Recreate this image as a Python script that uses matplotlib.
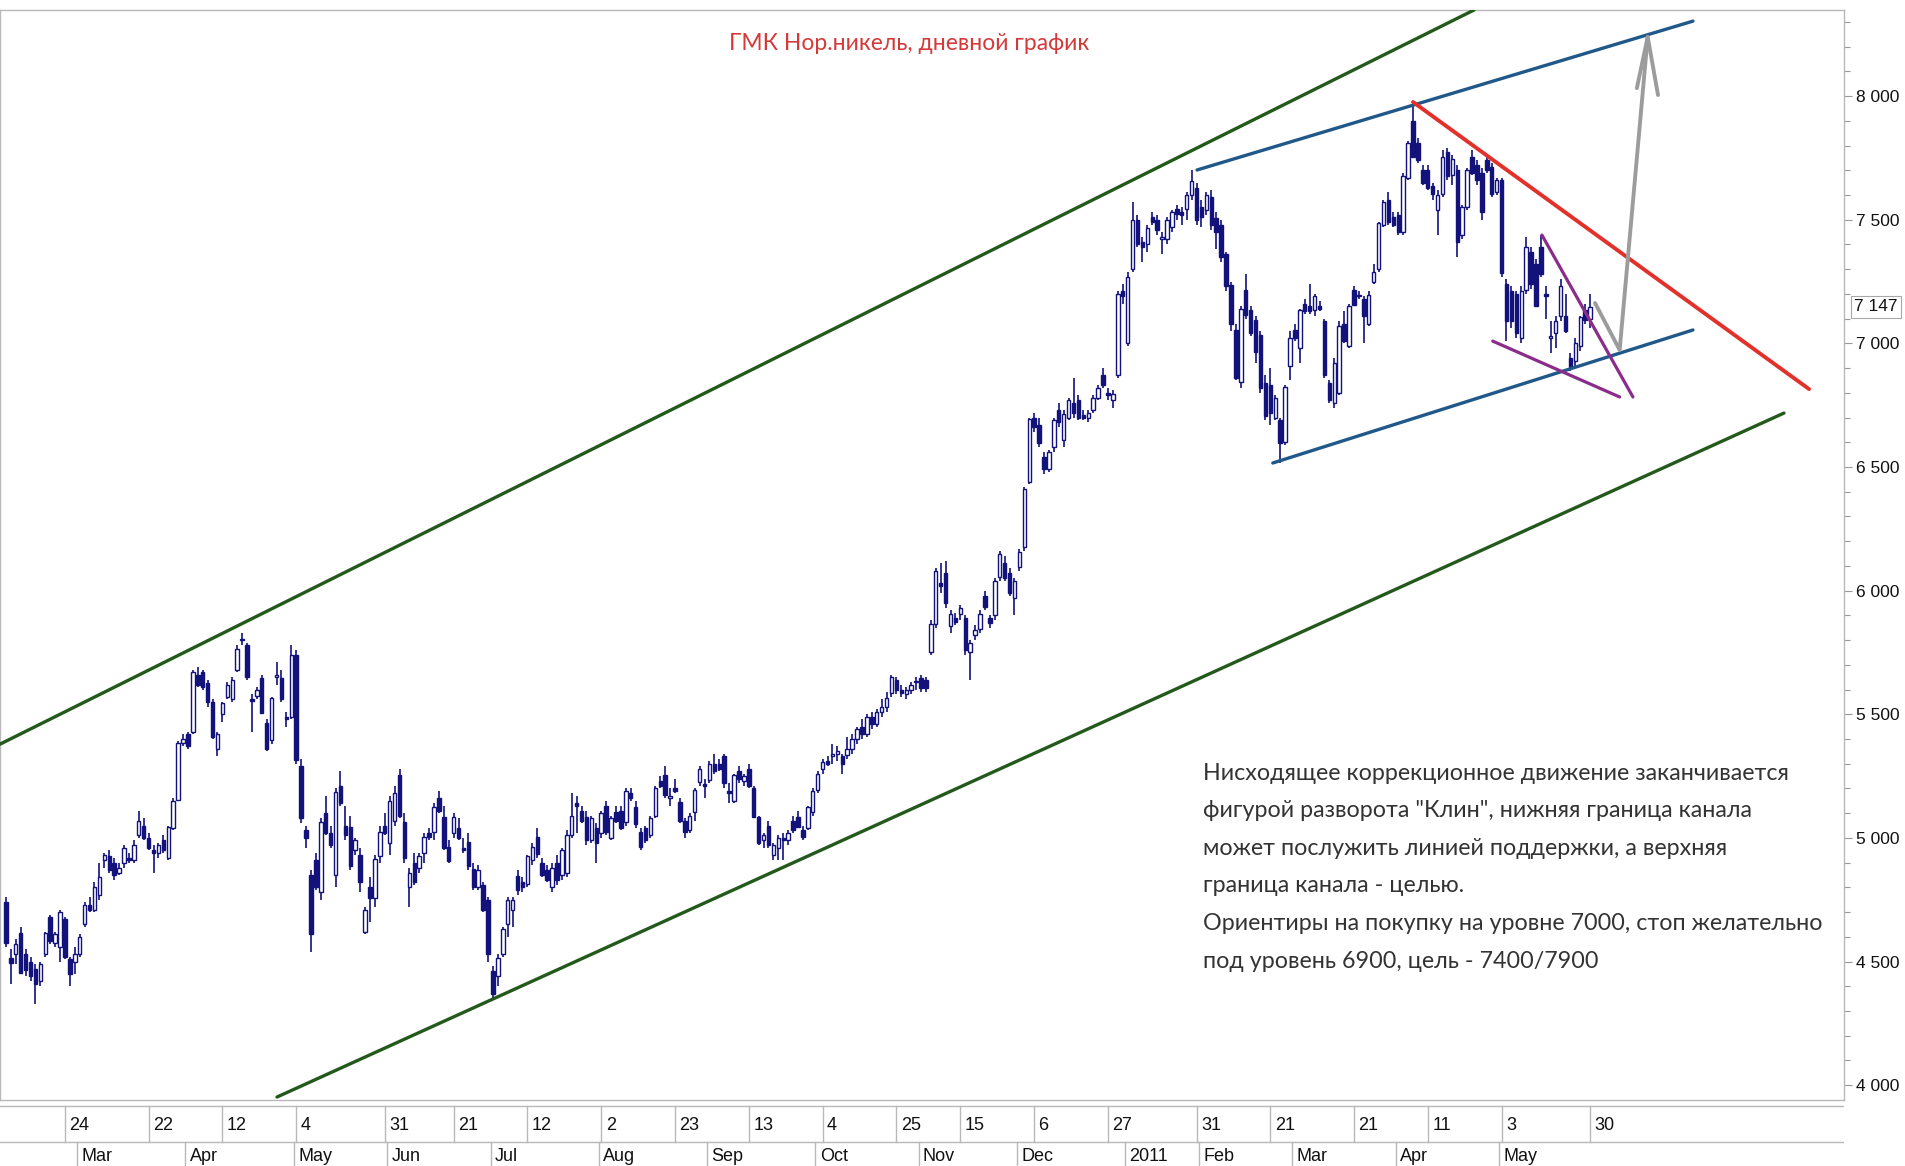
import numpy as np
import pandas as pd
import matplotlib
matplotlib.use("Agg")
import matplotlib.pyplot as plt
from matplotlib import font_manager
from matplotlib.ticker import MultipleLocator, FuncFormatter
import matplotlib.transforms as mtransforms

W, H = 1905, 1166

# daily candles, Feb 2010 - May 2011
opens = [
    4740, 4515, 4530, 4615, 4530, 4500, 4470, 4420, 4530, 4680,
    4575, 4560, 4670, 4510, 4500, 4530, 4650, 4730, 4710, 4770,
    4910, 4925, 4900, 4860, 4900, 4920, 4910, 5010, 5050, 5000,
    4950, 4940, 4990, 4920, 5040, 5155, 5385, 5420, 5430, 5660,
    5670, 5625, 5550, 5360, 5500, 5570, 5560, 5680, 5800, 5780,
    5560, 5575, 5645, 5465, 5395, 5650, 5645, 5490, 5490, 5740,
    5290, 5030, 4850, 4910, 4780, 5100, 5020, 4850, 5210, 5050,
    5045, 4950, 4930, 4620, 4800, 4755, 4925, 5050, 4980, 5070,
    5255, 5065, 4800, 4900, 4880, 4940, 5020, 5025, 5160, 5085,
    4965, 5020, 5040, 4960, 4985, 4875, 4800, 4810, 4750, 4460,
    4440, 4530, 4650, 4710, 4845, 4820, 4815, 4910, 5005, 4900,
    4870, 4800, 4900, 4850, 4860, 5010, 5140, 5110, 5085, 4990,
    5040, 5020, 5130, 5000, 5105, 5110, 5065, 5180, 5125, 5025,
    5040, 5010, 5090, 5230, 5255, 5160, 5200, 5145, 5070, 5030,
    5105, 5225, 5215, 5235, 5300, 5300, 5330, 5190, 5150, 5270,
    5230, 5280, 5200, 5085, 4990, 5050, 4930, 4960, 5000, 4990,
    5070, 5085, 5030, 5040, 5105, 5195, 5280, 5310, 5330, 5340,
    5330, 5335, 5360, 5400, 5450, 5420, 5490, 5460, 5510, 5530,
    5585, 5640, 5600, 5580, 5600, 5630, 5645, 5640, 5750, 5865,
    6030, 6070, 5855, 5890, 5905, 5890, 5750, 5820, 5845, 5980,
    5890, 5900, 6055, 6110, 6070, 5970, 6095, 6175, 6440, 6700,
    6670, 6540, 6490, 6580, 6730, 6610, 6700, 6760, 6770, 6710,
    6700, 6730, 6780, 6870, 6800, 6770, 6870, 7210, 7000, 7300,
    7500, 7410, 7400, 7510, 7500, 7420, 7420, 7470, 7545, 7530,
    7545, 7600, 7630, 7550, 7540, 7590, 7505, 7480, 7360, 7235,
    7055, 6845, 7215, 7135, 7095, 7035, 6840, 6830, 6700, 6690,
    6600, 6910, 7055, 6980, 7160, 7150, 7135, 7150, 7090, 6840,
    6760, 6800, 7080, 6990, 7215, 7190, 7180, 7080, 7250, 7300,
    7480, 7580, 7510, 7520, 7450, 7670, 7900, 7810, 7700, 7700,
    7635, 7540, 7605, 7775, 7680, 7700, 7440, 7550, 7755, 7720,
    7690, 7740, 7715, 7610, 7660, 7240, 7210, 7200, 7020, 7215,
    7370, 7320, 7390, 7200, 7020, 7040, 7110, 7110, 6940, 6930,
    6990, 7135, 7100,
]
highs = [
    4760, 4550, 4590, 4640, 4550, 4520, 4490, 4500, 4620, 4690,
    4620, 4710, 4680, 4520, 4560, 4610, 4740, 4760, 4820, 4900,
    4940, 4950, 4920, 4900, 4970, 4940, 4990, 5110, 5080, 5020,
    4970, 4980, 5010, 5050, 5160, 5390, 5420, 5430, 5680, 5690,
    5680, 5640, 5560, 5430, 5550, 5630, 5650, 5780, 5830, 5790,
    5580, 5610, 5660, 5480, 5570, 5710, 5680, 5510, 5780, 5760,
    5320, 5050, 4870, 4940, 5080, 5170, 5050, 5200, 5270, 5130,
    5090, 5000, 4960, 4720, 4840, 4930, 5050, 5100, 5170, 5210,
    5280, 5100, 4880, 4940, 4940, 5020, 5040, 5140, 5190, 5130,
    4990, 5100, 5080, 5000, 5020, 4900, 4890, 4820, 4760, 4480,
    4530, 4640, 4760, 4760, 4870, 4840, 4930, 4980, 5040, 4920,
    4890, 4900, 4930, 4960, 5030, 5180, 5170, 5130, 5110, 5090,
    5060, 5110, 5150, 5090, 5130, 5130, 5200, 5200, 5150, 5040,
    5050, 5090, 5210, 5250, 5290, 5200, 5240, 5160, 5080, 5100,
    5200, 5290, 5240, 5310, 5340, 5320, 5340, 5220, 5260, 5290,
    5260, 5300, 5210, 5090, 5020, 5070, 4980, 5010, 5020, 5030,
    5090, 5110, 5050, 5130, 5200, 5270, 5320, 5330, 5380, 5370,
    5340, 5410, 5420, 5450, 5480, 5500, 5510, 5520, 5560, 5590,
    5660, 5650, 5620, 5610, 5630, 5650, 5660, 5650, 5880, 6090,
    6110, 6120, 5920, 5910, 5940, 5900, 5800, 5860, 5920, 6000,
    5900, 6050, 6160, 6140, 6090, 6050, 6170, 6420, 6700, 6720,
    6700, 6560, 6570, 6700, 6760, 6730, 6780, 6860, 6790, 6730,
    6730, 6790, 6830, 6900, 6820, 6810, 7210, 7240, 7290, 7570,
    7520, 7430, 7480, 7530, 7520, 7450, 7510, 7540, 7560, 7550,
    7610, 7700, 7650, 7580, 7610, 7620, 7530, 7500, 7370, 7250,
    7080, 7150, 7280, 7150, 7110, 7050, 6870, 6900, 6790, 6700,
    6830, 7050, 7080, 7140, 7180, 7240, 7200, 7170, 7100, 6850,
    6940, 7090, 7130, 7160, 7230, 7210, 7190, 7210, 7320, 7490,
    7580, 7610, 7530, 7530, 7690, 7820, 7980, 7830, 7720, 7720,
    7650, 7620, 7780, 7790, 7760, 7720, 7560, 7710, 7780, 7740,
    7710, 7760, 7730, 7670, 7670, 7260, 7230, 7210, 7230, 7430,
    7390, 7340, 7440, 7230, 7090, 7110, 7260, 7200, 6960, 7020,
    7110, 7160, 7200,
]
lows = [
    4560, 4410, 4490, 4450, 4440, 4420, 4330, 4400, 4520, 4570,
    4560, 4500, 4510, 4400, 4450, 4520, 4640, 4700, 4700, 4750,
    4880, 4860, 4830, 4850, 4880, 4900, 4900, 5000, 4990, 4950,
    4860, 4920, 4940, 4910, 5030, 5150, 5370, 5360, 5420, 5610,
    5600, 5530, 5400, 5330, 5470, 5560, 5550, 5670, 5780, 5640,
    5430, 5560, 5500, 5350, 5380, 5620, 5550, 5450, 5480, 5300,
    5060, 4960, 4540, 4790, 4750, 5010, 4960, 4800, 5130, 4990,
    4870, 4930, 4780, 4610, 4660, 4720, 4900, 5010, 4930, 5050,
    5080, 4900, 4720, 4810, 4860, 4900, 4990, 4990, 5100, 4950,
    4900, 5000, 4990, 4940, 4870, 4790, 4790, 4700, 4500, 4350,
    4400, 4520, 4600, 4640, 4770, 4780, 4800, 4890, 4920, 4840,
    4820, 4780, 4810, 4830, 4840, 5000, 5020, 5060, 4970, 4980,
    4900, 5000, 5010, 4990, 5060, 5030, 5050, 5150, 5040, 4950,
    4980, 5000, 5080, 5200, 5160, 5130, 5180, 5060, 5000, 5020,
    5070, 5210, 5160, 5220, 5260, 5270, 5200, 5140, 5140, 5220,
    5210, 5200, 5080, 4970, 4960, 4960, 4910, 4910, 4910, 4970,
    5020, 5040, 4990, 5030, 5090, 5180, 5260, 5290, 5300, 5310,
    5260, 5320, 5340, 5380, 5400, 5410, 5440, 5450, 5490, 5510,
    5570, 5580, 5570, 5560, 5580, 5600, 5590, 5590, 5740, 5850,
    5990, 5930, 5830, 5860, 5880, 5740, 5640, 5800, 5830, 5920,
    5850, 5880, 6040, 6040, 5980, 5900, 6080, 6160, 6430, 6640,
    6580, 6470, 6480, 6560, 6660, 6580, 6690, 6700, 6690, 6690,
    6680, 6720, 6770, 6820, 6770, 6740, 6860, 7160, 6990, 7290,
    7390, 7330, 7370, 7480, 7440, 7360, 7400, 7450, 7500, 7480,
    7500, 7580, 7480, 7470, 7520, 7460, 7380, 7330, 7210, 7050,
    6850, 6820, 7100, 7030, 6920, 6800, 6690, 6670, 6690, 6515,
    6590, 6850, 7010, 6920, 7120, 7120, 7110, 7130, 6860, 6760,
    6740, 6790, 7000, 6980, 7150, 7180, 7000, 7070, 7240, 7290,
    7470, 7480, 7470, 7440, 7440, 7660, 7750, 7730, 7640, 7620,
    7580, 7440, 7590, 7660, 7640, 7350, 7420, 7540, 7680, 7640,
    7500, 7690, 7590, 7600, 7270, 7010, 7060, 7020, 7000, 7200,
    7220, 7150, 7270, 7100, 6960, 6980, 7090, 7040, 6890, 6910,
    6970, 7080, 7060,
]
closes = [
    4575, 4495, 4570, 4455, 4465, 4440, 4410, 4490, 4615, 4585,
    4610, 4700, 4520, 4450, 4530, 4600, 4730, 4710, 4800, 4840,
    4930, 4870, 4850, 4880, 4960, 4910, 4970, 5070, 5000, 4960,
    4940, 4970, 4950, 5045, 5150, 5385, 5400, 5370, 5670, 5620,
    5610, 5550, 5410, 5420, 5545, 5620, 5640, 5765, 5805, 5650,
    5555, 5600, 5505, 5360, 5565, 5660, 5560, 5480, 5740, 5315,
    5080, 5000, 4610, 4800, 5065, 5020, 4970, 5185, 5140, 5010,
    4885, 4990, 4820, 4710, 4755, 4915, 5025, 5020, 5150, 5180,
    5090, 4920, 4860, 4820, 4925, 5005, 5005, 5125, 5110, 4960,
    4905, 5085, 5000, 4950, 4885, 4800, 4870, 4710, 4530, 4370,
    4515, 4630, 4750, 4750, 4790, 4800, 4925, 4965, 4935, 4850,
    4830, 4880, 4830, 4950, 5010, 5090, 5130, 5070, 4990, 5080,
    4980, 5100, 5025, 5080, 5070, 5040, 5190, 5160, 5055, 4965,
    4990, 5080, 5200, 5210, 5175, 5170, 5190, 5070, 5025, 5090,
    5195, 5280, 5210, 5300, 5270, 5280, 5220, 5180, 5255, 5240,
    5250, 5210, 5085, 4980, 5010, 4970, 4970, 5000, 4990, 5020,
    5030, 5045, 5005, 5125, 5190, 5260, 5305, 5300, 5340, 5350,
    5300, 5360, 5400, 5440, 5420, 5490, 5460, 5510, 5530, 5565,
    5650, 5600, 5585, 5600, 5620, 5630, 5605, 5605, 5865, 6080,
    6020, 5950, 5905, 5875, 5930, 5760, 5790, 5840, 5905, 5935,
    5870, 6040, 6150, 6050, 5990, 6040, 6155, 6410, 6695, 6660,
    6595, 6490, 6560, 6690, 6680, 6715, 6770, 6720, 6700, 6700,
    6720, 6780, 6820, 6830, 6790, 6795, 7200, 7190, 7270, 7500,
    7400, 7390, 7465, 7490, 7460, 7430, 7500, 7530, 7525, 7520,
    7600, 7655, 7500, 7510, 7600, 7480, 7450, 7350, 7230, 7080,
    6860, 7140, 7115, 7040, 6965, 6820, 6705, 6720, 6780, 6595,
    6825, 7020, 7020, 7135, 7130, 7130, 7190, 7140, 6870, 6770,
    6920, 7070, 7010, 7150, 7155, 7190, 7110, 7195, 7290, 7485,
    7570, 7490, 7480, 7450, 7675, 7810, 7755, 7740, 7650, 7630,
    7605, 7600, 7755, 7675, 7745, 7410, 7550, 7700, 7690, 7660,
    7530, 7700, 7605, 7660, 7285, 7090, 7090, 7040, 7210, 7390,
    7240, 7150, 7280, 7190, 7030, 7090, 7230, 7050, 6905, 7000,
    7105, 7095, 7147,
]
last_date = "2011-05-30"
last_price = 7147

# exchange holidays (weekdays without trading)
holidays = ["2010-02-22", "2010-02-23", "2010-03-08", "2010-05-03", "2010-05-10",
            "2010-06-14", "2010-11-04", "2010-11-05", "2010-12-31",
            "2011-01-03", "2011-01-04", "2011-01-05", "2011-01-06", "2011-01-07",
            "2011-01-10", "2011-02-23", "2011-03-07", "2011-03-08", "2011-05-02",
            "2011-05-09"]

week_ticks = ["2010-02-24", "2010-03-22", "2010-04-12", "2010-05-04", "2010-05-31",
              "2010-06-21", "2010-07-12", "2010-08-02", "2010-08-23", "2010-09-13",
              "2010-10-04", "2010-10-25", "2010-11-15", "2010-12-06", "2010-12-27",
              "2011-01-31", "2011-02-21", "2011-03-21", "2011-04-11", "2011-05-03",
              "2011-05-30"]
month_starts = ["2010-03", "2010-04", "2010-05", "2010-06", "2010-07", "2010-08",
                "2010-09", "2010-10", "2010-11", "2010-12", "2011-01", "2011-02",
                "2011-03", "2011-04", "2011-05"]
month_labels = ["Mar", "Apr", "May", "Jun", "Jul", "Aug", "Sep", "Oct", "Nov", "Dec",
                "2011", "Feb", "Mar", "Apr", "May"]

# hand drawn lines, (bar number, price)
green_upper = [(-1.2, 5379), (298.4, 8348)]
green_lower = [(55.1, 3952), (361.4, 6718)]
blue_upper = [(242.1, 7701), (342.9, 8303)]
blue_lower = [(257.5, 6516), (342.9, 7054)]
red_line = [(286.0, 7976), (366.5, 6815)]
purple_upper = [(312.2, 7438), (330.7, 6783)]
purple_lower = [(302.2, 7009), (328.0, 6783)]
grey_path = [(323.0, 7163), (328.0, 6973), (333.7, 8239)]
grey_head = [(331.5, 8032), (333.7, 8239), (335.8, 8004)]

note_lines = [
    "Нисходящее коррекционное движение заканчивается",
    "фигурой разворота \"Клин\", нижняя граница канала",
    "может послужить линией поддержки, а верхняя",
    "граница канала - целью.",
    "Ориентиры на покупку на уровне 7000, стоп желательно",
    "под уровень 6900, цель - 7400/7900",
]
title = "ГМК Нор.никель, дневной график"

installed = {f.name for f in font_manager.fontManager.ttflist}
narrow = "Liberation Sans Narrow" if "Liberation Sans Narrow" in installed else "Liberation Sans"
text_font = ["Lato", "DejaVu Sans"]

# trading calendar
days = pd.bdate_range("2010-01-04", "2011-09-30")
days = days[~days.isin(pd.to_datetime(holidays))]
end = days.get_loc(pd.Timestamp(last_date))
days = days[end - len(closes) + 1:]
pos = {d: i for i, d in enumerate(days)}

o = np.array(opens, float)
c = np.array(closes, float)
hi = np.maximum(np.array(highs, float), np.maximum(o, c))
lo = np.minimum(np.array(lows, float), np.minimum(o, c))
x = np.arange(len(c))
up = c >= o

navy = "#12127a"
frame = "#b8b8b8"

fig = plt.figure(figsize=(W / 100, H / 100), dpi=100)
ax = fig.add_axes([0.0, 66 / H, 1844 / W, 1090 / H])

ax.vlines(x, lo, hi, color=navy, lw=1.2, zorder=2)
bottom = np.minimum(o, c)
height = np.maximum(np.abs(c - o), 6)
ax.bar(x[up], height[up], bottom=bottom[up], width=0.7, facecolor="white",
       edgecolor=navy, linewidth=1.0, zorder=3)
ax.bar(x[~up], height[~up], bottom=bottom[~up], width=0.7, facecolor=navy,
       edgecolor=navy, linewidth=1.0, zorder=3)


def draw(pts, color, lw):
    xs, ys = zip(*pts)
    ax.plot(xs, ys, color=color, lw=lw, solid_capstyle="round", zorder=4)


draw(green_upper, "#235a1c", 2.4)
draw(green_lower, "#235a1c", 2.4)
draw(blue_upper, "#21588a", 2.4)
draw(blue_lower, "#21588a", 2.4)
draw(red_line, "#e2302a", 2.8)
draw(purple_upper, "#8a2c8a", 2.3)
draw(purple_lower, "#8a2c8a", 2.3)
draw(grey_path, "#9c9c9c", 2.8)
draw(grey_head, "#9c9c9c", 2.8)

ax.set_xlim(-1.2, 373.6)
ax.set_ylim(3940, 8348)
ax.xaxis.set_visible(False)
ax.yaxis.tick_right()
ax.yaxis.set_major_locator(MultipleLocator(500))
ax.yaxis.set_minor_locator(MultipleLocator(100))
ax.yaxis.set_major_formatter(FuncFormatter(lambda v, p: f"{v:,.0f}".replace(",", " ")))
ax.tick_params(axis="y", which="major", length=6, width=0.8, color="#999999",
               labelsize=12.5, pad=3, labelcolor="#111111")
ax.tick_params(axis="y", which="minor", length=4, width=0.8, color="#999999")
for lab in ax.get_yticklabels():
    lab.set_family(narrow)
for s in ax.spines.values():
    s.set_color(frame)
    s.set_linewidth(1.0)

trans = mtransforms.blended_transform_factory(ax.transAxes, ax.transData)
ax.text(1.0055, last_price, f"{last_price:,}".replace(",", " "), transform=trans,
        ha="left", va="center", fontsize=12.5, family=narrow, color="#111111",
        bbox=dict(boxstyle="square,pad=0.18", fc="white", ec="#a8a8a8", lw=0.8))

# date band under the chart
bx = fig.add_axes([0.0, 0.0, 1844 / W, 62 / H])
bx.set_xlim(ax.get_xlim())
bx.set_ylim(0, 1)
bx.axis("off")
bx.axhline(0.97, color=frame, lw=1.0)
bx.axhline(0.39, color=frame, lw=1.0)
for d in week_ticks:
    i = pos[pd.Timestamp(d)]
    bx.plot([i, i], [0.39, 0.97], color=frame, lw=1.0)
    bx.text(i + 0.9, 0.66, str(pd.Timestamp(d).day), ha="left", va="center",
            fontsize=13, family=narrow, color="#111111")
for m, lab in zip(month_starts, month_labels):
    first = min(d for d in days if d.strftime("%Y-%m") == m)
    i = pos[first] - 0.5
    bx.plot([i, i], [0.0, 0.39], color=frame, lw=1.0)
    bx.text(i + 0.9, 0.16, lab, ha="left", va="center",
            fontsize=13, family=narrow, color="#111111")

# title and comment
t = fig.text(909 / W, 1 - 44 / H, title, ha="center", va="center",
             fontsize=16, color="#d43a3a", family=text_font)
notes = []
for k, line in enumerate(note_lines):
    notes.append(fig.text(1203 / W, 1 - (773 + k * 37.6) / H, line, ha="left",
                          va="center", fontsize=16, color="#333333", family=text_font))

fig.canvas.draw()
r = fig.canvas.get_renderer()
scale = 586 / notes[0].get_window_extent(r).width
for n in notes:
    n.set_fontsize(16 * scale)
t.set_fontsize(16 * 361 / t.get_window_extent(r).width)

fig.savefig("out.png", dpi=100, facecolor="white")
